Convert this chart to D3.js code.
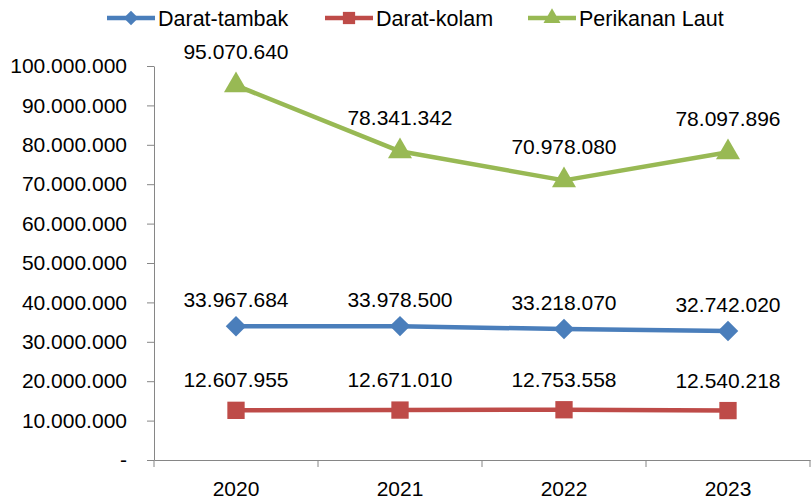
<!DOCTYPE html>
<html>
<head>
<meta charset="utf-8">
<script src="https://cdn.jsdelivr.net/npm/d3@7"></script>
<style>
  body { margin: 0; background: #fff; }
  svg { font-family: "Liberation Sans", Arial, sans-serif; }
</style>
</head>
<body>
<div id="chart"></div>
<script>
const years = ["2020", "2021", "2022", "2023"];
const seriesNames = ["Darat-tambak", "Darat-kolam", "Perikanan Laut"];
const tambak = [33967684, 33978500, 33218070, 32742020];
const kolam = [12607955, 12671010, 12753558, 12540218];
const laut = [95070640, 78341342, 70978080, 78097896];
const yTicks = [0, 10000000, 20000000, 30000000, 40000000, 50000000, 60000000, 70000000, 80000000, 90000000, 100000000];

const W = 812, H = 500;
const colors = ["#4a7ebb", "#be4b48", "#98b954"];
// diamond = square turned 45 degrees
const markers = [d3.symbolSquare, d3.symbolSquare, d3.symbolTriangle];
const markerRot = [45, 0, 0];
const markerSize = [210, 300, 250];
const labelGap = [19, 23, 26];

let svg = d3.select("#chart").append("svg")
    .attr("width", W)
    .attr("height", H);

let x = d3.scaleBand().domain(years).range([154, 810]);
let y = d3.scaleLinear().domain([0, 100000000]).range([460, 66]);

// format like 10.000.000, zero as "-"
let fmt = function(v) {
    if (v == 0) return "-";
    return d3.format(",")(v).replace(/,/g, ".");
};

// y axis
let yAxis = svg.append("g")
    .attr("transform", "translate(154,0)")
    .call(d3.axisLeft(y).tickValues(yTicks).tickFormat(fmt).tickSize(7).tickSizeOuter(0));
yAxis.select(".domain").attr("stroke", "#868686");
yAxis.selectAll(".tick line").attr("stroke", "#868686");
yAxis.selectAll(".tick text")
    .attr("font-size", 21)
    .attr("fill", "#000")
    .attr("x", -27)
    .attr("font-family", "Liberation Sans");

// x axis
let xAxis = svg.append("g")
    .attr("transform", "translate(0,460)")
    .call(d3.axisBottom(x).tickSize(0));
xAxis.select(".domain").attr("stroke", "#868686");
xAxis.selectAll(".tick text")
    .attr("font-size", 21)
    .attr("fill", "#000")
    .attr("dy", 0)
    .attr("y", 36)
    .attr("font-family", "Liberation Sans");
// tick marks between categories
svg.append("g").selectAll("line")
    .data(years.concat(["end"]))
    .enter().append("line")
    .attr("x1", (d, i) => 154 + i * x.step())
    .attr("x2", (d, i) => 154 + i * x.step())
    .attr("y1", 460)
    .attr("y2", 467)
    .attr("stroke", "#868686");

let allSeries = [tambak, kolam, laut];
let line = d3.line()
    .x((d, i) => x(years[i]) + x.bandwidth() / 2)
    .y(d => y(d));

allSeries.forEach(function(s, k) {
    svg.append("path")
        .attr("d", line(s))
        .attr("fill", "none")
        .attr("stroke", colors[k])
        .attr("stroke-width", 4.5)
        .attr("stroke-linejoin", "round");

    svg.append("g").selectAll("path")
        .data(s).enter().append("path")
        .attr("d", d3.symbol().type(markers[k]).size(markerSize[k]))
        .attr("transform", (d, i) => "translate(" + (x(years[i]) + x.bandwidth() / 2) + "," + y(d) + ") rotate(" + markerRot[k] + ")")
        .attr("fill", colors[k]);

    svg.append("g").selectAll("text")
        .data(s).enter().append("text")
        .attr("x", (d, i) => x(years[i]) + x.bandwidth() / 2)
        .attr("y", d => y(d) - labelGap[k])
        .attr("text-anchor", "middle")
        .attr("font-size", 21)
        .text(d => fmt(d));
});

// legend
let legX = [107, 325, 528];
seriesNames.forEach(function(n, k) {
    let g = svg.append("g").attr("transform", "translate(" + legX[k] + ",18)");
    g.append("line")
        .attr("x1", 0).attr("x2", 48)
        .attr("stroke", colors[k])
        .attr("stroke-width", 4.5);
    g.append("path")
        .attr("d", d3.symbol().type(markers[k]).size(markerSize[k] * 0.5))
        .attr("transform", "translate(24,0) rotate(" + markerRot[k] + ")")
        .attr("fill", colors[k]);
    g.append("text")
        .attr("x", 51)
        .attr("y", 8)
        .attr("font-size", 21.5)
        .text(n);
});
</script>
</body>
</html>
